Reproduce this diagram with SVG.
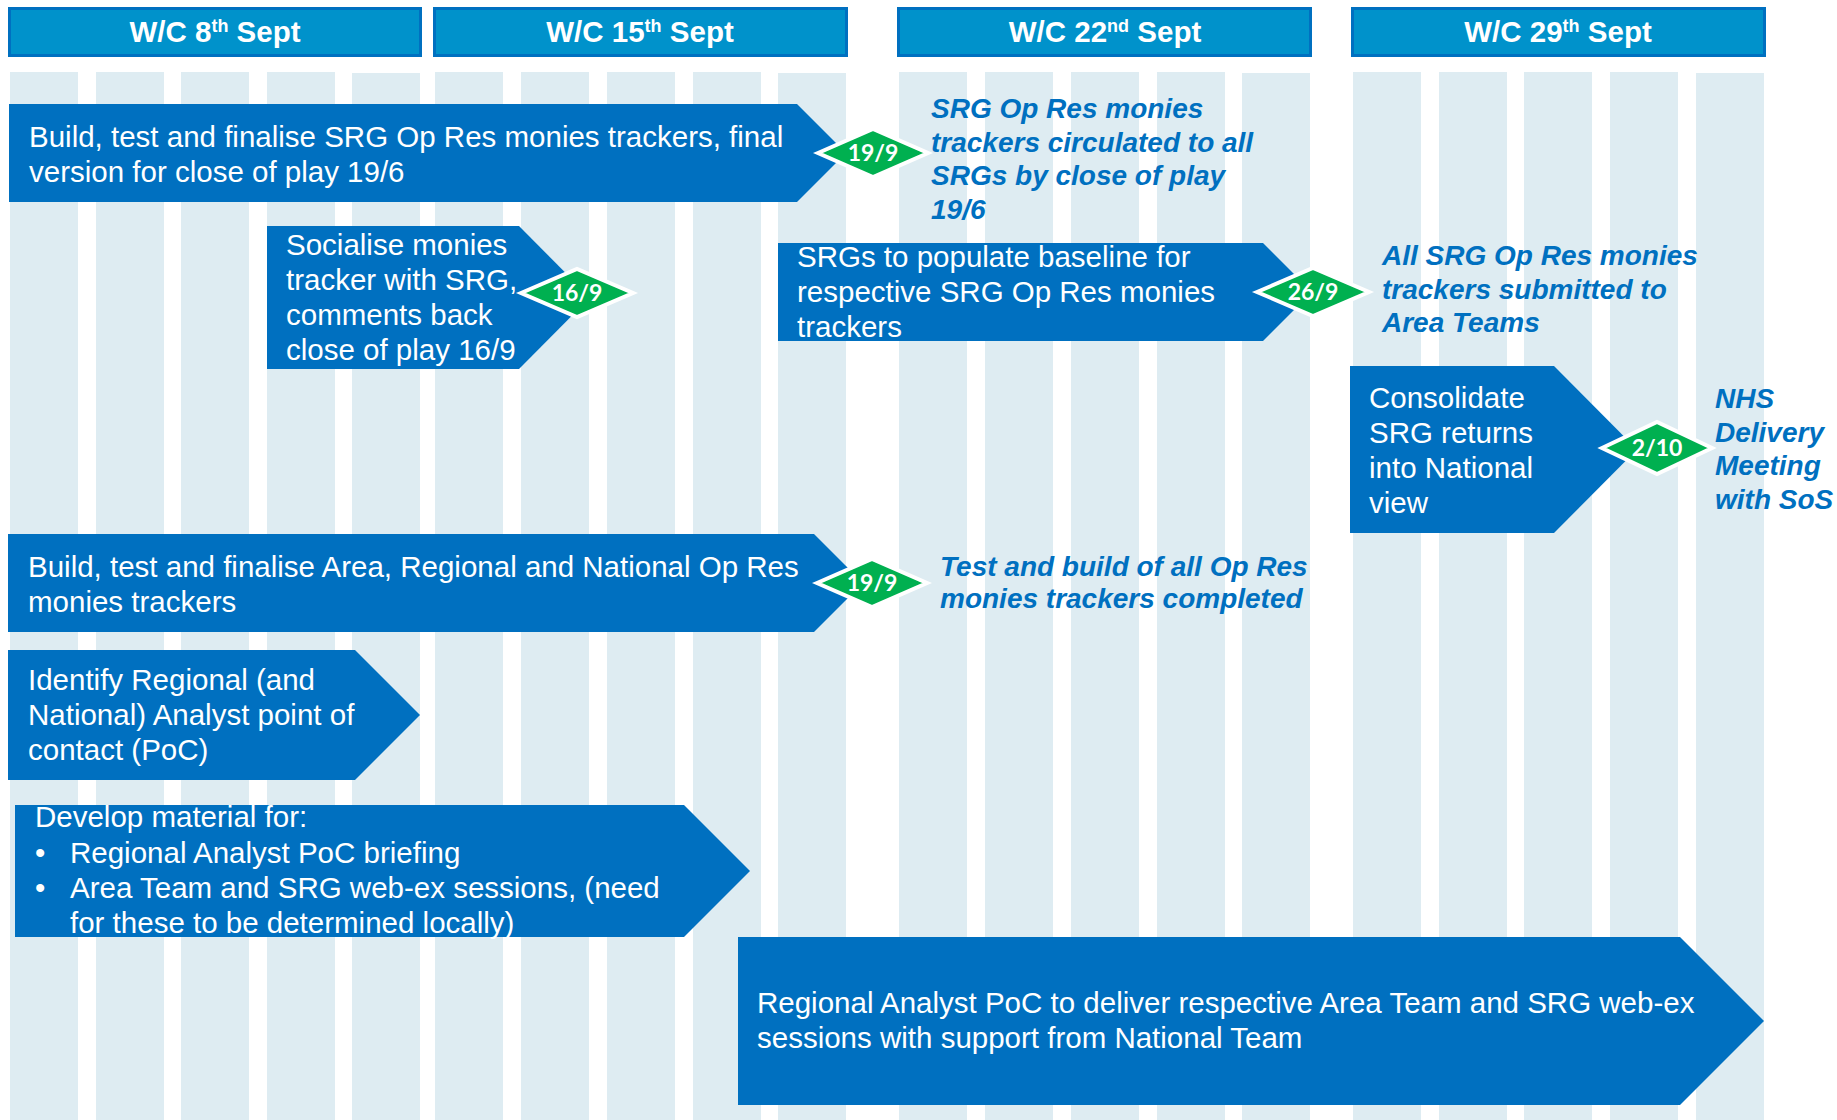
<svg xmlns="http://www.w3.org/2000/svg" width="1837" height="1120" viewBox="0 0 1837 1120">
<style>
.stripe{fill:#DEECF2}
.hdr{fill:#0092CB;stroke:#0070C0;stroke-width:3}
.hdrt{font-family:"Liberation Sans",Arial,sans-serif;font-weight:bold;font-size:29.5px;fill:#fff;text-anchor:middle}
.arr{fill:#0070C0}
.bt{font-family:"Liberation Sans",Arial,sans-serif;font-size:29.5px;fill:#fff}
.note{font-family:"Liberation Sans",Arial,sans-serif;font-size:28px;font-weight:bold;font-style:italic;fill:#0070C0}
.dia{fill:#00B050;stroke:#fff;stroke-width:4;stroke-linejoin:miter}
.dt{font-family:Lato,"Open Sans",sans-serif;font-weight:bold;font-size:23px;fill:#fff;text-anchor:middle}
</style>
<rect width="1837" height="1120" fill="#fff"/>
<g id="stripes">
<rect class="stripe" x="10" y="72" width="68" height="1048"/>
<rect class="stripe" x="96" y="72" width="68" height="1048"/>
<rect class="stripe" x="181" y="72" width="68" height="1048"/>
<rect class="stripe" x="267" y="72" width="68" height="1048"/>
<rect class="stripe" x="352" y="73" width="68" height="1047"/>
<rect class="stripe" x="435" y="72" width="68" height="1048"/>
<rect class="stripe" x="521" y="72" width="68" height="1048"/>
<rect class="stripe" x="607" y="72" width="68" height="1048"/>
<rect class="stripe" x="693" y="72" width="68" height="1048"/>
<rect class="stripe" x="778" y="73" width="68" height="1047"/>
<rect class="stripe" x="899" y="72" width="68" height="1048"/>
<rect class="stripe" x="985" y="72" width="68" height="1048"/>
<rect class="stripe" x="1071" y="72" width="68" height="1048"/>
<rect class="stripe" x="1157" y="72" width="68" height="1048"/>
<rect class="stripe" x="1242" y="73" width="68" height="1047"/>
<rect class="stripe" x="1353" y="72" width="68" height="1048"/>
<rect class="stripe" x="1439" y="72" width="68" height="1048"/>
<rect class="stripe" x="1524" y="72" width="68" height="1048"/>
<rect class="stripe" x="1610" y="72" width="68" height="1048"/>
<rect class="stripe" x="1696" y="73" width="68" height="1047"/>
</g>
<g id="header1"><rect class="hdr" x="9.5" y="8.5" width="411" height="47"/><text class="hdrt" x="215" y="42">W/C 8<tspan font-size="18" dy="-10">th</tspan><tspan dy="10"> Sept</tspan></text></g>
<g id="header2"><rect class="hdr" x="434.5" y="8.5" width="412" height="47"/><text class="hdrt" x="640" y="42">W/C 15<tspan font-size="18" dy="-10">th</tspan><tspan dy="10"> Sept</tspan></text></g>
<g id="header3"><rect class="hdr" x="898.5" y="8.5" width="412" height="47"/><text class="hdrt" x="1105" y="42">W/C 22<tspan font-size="18" dy="-10">nd</tspan><tspan dy="10"> Sept</tspan></text></g>
<g id="header4"><rect class="hdr" x="1352.5" y="8.5" width="412" height="47"/><text class="hdrt" x="1558" y="42">W/C 29<tspan font-size="18" dy="-10">th</tspan><tspan dy="10"> Sept</tspan></text></g>

<g id="task1"><polygon class="arr" points="9,104 797,104 846,153 797,202 9,202"/>
<text class="bt" x="29" y="147">Build, test and finalise SRG Op Res monies trackers, final</text>
<text class="bt" x="29" y="182">version for close of play 19/6</text></g>
<g id="task2"><polygon class="arr" points="267,226 519,226 590,297.5 519,369 267,369"/>
<text class="bt" x="286" y="255">Socialise monies</text>
<text class="bt" x="286" y="290">tracker with SRG,</text>
<text class="bt" x="286" y="325">comments back</text>
<text class="bt" x="286" y="360">close of play 16/9</text></g>
<g id="task3"><polygon class="arr" points="778,243 1263,243 1312,292 1263,341 778,341"/>
<text class="bt" x="797" y="267">SRGs to populate baseline for</text>
<text class="bt" x="797" y="302">respective SRG Op Res monies</text>
<text class="bt" x="797" y="337">trackers</text></g>
<g id="task4"><polygon class="arr" points="1350,366 1554,366 1637,449.5 1554,533 1350,533"/>
<text class="bt" x="1369" y="408">Consolidate</text>
<text class="bt" x="1369" y="443">SRG returns</text>
<text class="bt" x="1369" y="478">into National</text>
<text class="bt" x="1369" y="513">view</text></g>
<g id="task5"><polygon class="arr" points="8,534 814,534 863,583 814,632 8,632"/>
<text class="bt" x="28" y="577">Build, test and finalise Area, Regional and National Op Res</text>
<text class="bt" x="28" y="612">monies trackers</text></g>
<g id="task6"><polygon class="arr" points="8,650 355,650 420,715 355,780 8,780"/>
<text class="bt" x="28" y="690">Identify Regional (and</text>
<text class="bt" x="28" y="725">National) Analyst point of</text>
<text class="bt" x="28" y="760">contact (PoC)</text></g>
<g id="task7"><polygon class="arr" points="15,805 684,805 750,871 684,937 15,937"/>
<text class="bt" x="35" y="827">Develop material for:</text>
<text class="bt" x="35" y="863">•</text><text class="bt" x="70" y="863">Regional Analyst PoC briefing</text>
<text class="bt" x="35" y="898">•</text><text class="bt" x="70" y="898">Area Team and SRG web-ex sessions, (need</text>
<text class="bt" x="70" y="933">for these to be determined locally)</text></g>
<g id="task8"><polygon class="arr" points="738,937 1680,937 1764,1021 1680,1105 738,1105"/>
<text class="bt" x="757" y="1013">Regional Analyst PoC to deliver respective Area Team and SRG web-ex</text>
<text class="bt" x="757" y="1048">sessions with support from National Team</text></g>

<g id="milestone1"><polygon class="dia" points="818,153 873,129 928,153 873,177"/><text class="dt" x="873" y="161">19/9</text></g>
<g id="milestone2"><polygon class="dia" points="521,293 577,269 633,293 577,317"/><text class="dt" x="577" y="301">16/9</text></g>
<g id="milestone3"><polygon class="dia" points="1257,292 1313,268 1369,292 1313,316"/><text class="dt" x="1313" y="300">26/9</text></g>
<g id="milestone4"><polygon class="dia" points="1602,448 1657,422 1712,448 1657,474"/><text class="dt" x="1657" y="456">2/10</text></g>
<g id="milestone5"><polygon class="dia" points="817,583 872,559 927,583 872,607"/><text class="dt" x="872" y="591">19/9</text></g>

<g id="note1"><text class="note" x="931" y="118">SRG Op Res monies</text>
<text class="note" x="931" y="151.5">trackers circulated to all</text>
<text class="note" x="931" y="185">SRGs by close of play</text>
<text class="note" x="931" y="218.5">19/6</text></g>
<g id="note2"><text class="note" x="1382" y="265">All SRG Op Res monies</text>
<text class="note" x="1382" y="298.5">trackers submitted to</text>
<text class="note" x="1382" y="332">Area Teams</text></g>
<g id="note3"><text class="note" x="1715" y="408">NHS</text>
<text class="note" x="1715" y="441.5">Delivery</text>
<text class="note" x="1715" y="475">Meeting</text>
<text class="note" x="1715" y="508.5">with SoS</text></g>
<g id="note4"><text class="note" x="940" y="576">Test and build of all Op Res</text>
<text class="note" x="940" y="608">monies trackers completed</text></g>
<g id="connectors"></g>
</svg>
